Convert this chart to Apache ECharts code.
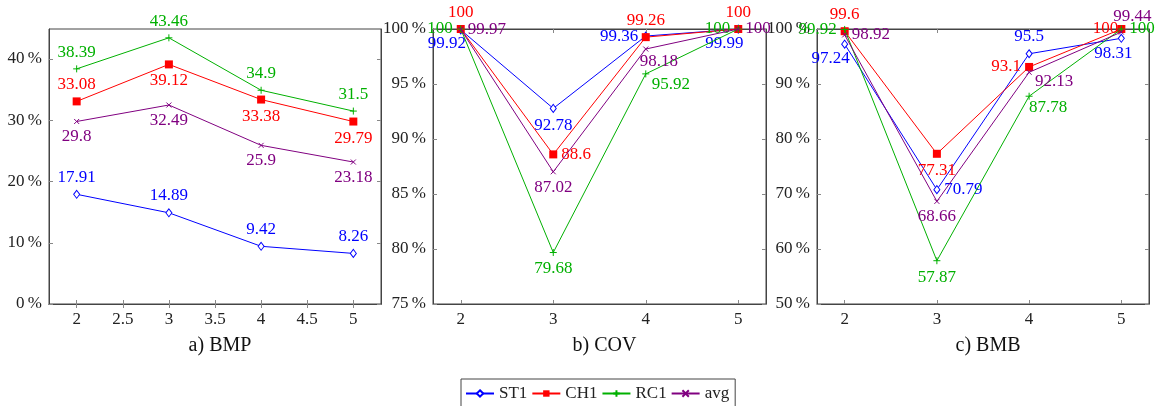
<!DOCTYPE html>
<html>
<head>
<meta charset="utf-8">
<script src="https://cdn.jsdelivr.net/npm/echarts@6/dist/echarts.min.js"></script>
<style>
  html, body { margin: 0; padding: 0; background: #fff; }
  #main { width: 1158px; height: 406px; }
</style>
</head>
<body>
<div id="main"></div>
<script>
// x values (shared by all three panels)
var xs = [2, 3, 4, 5];
var seriesNames = ['ST1', 'CH1', 'RC1', 'avg'];

// a) BMP
var bmpST1 = [17.91, 14.89, 9.42, 8.26];
var bmpCH1 = [33.08, 39.12, 33.38, 29.79];
var bmpRC1 = [38.39, 43.46, 34.9, 31.5];
var bmpAvg = [29.8, 32.49, 25.9, 23.18];

// b) COV
var covST1 = [99.92, 92.78, 99.36, 99.99];
var covCH1 = [100, 88.6, 99.26, 100];
var covRC1 = [100, 79.68, 95.92, 100];
var covAvg = [99.97, 87.02, 98.18, 100];

// c) BMB
var bmbST1 = [97.24, 70.79, 95.5, 98.31];
var bmbCH1 = [99.6, 77.31, 93.1, 100];
var bmbRC1 = [99.92, 57.87, 87.78, 100];
var bmbAvg = [98.92, 68.66, 92.13, 99.44];

// tick labels
var bmpXTicks = [2, 2.5, 3, 3.5, 4, 4.5, 5];
var xTicks = [2, 3, 4, 5];
var bmpYTicks = [0, 10, 20, 30, 40];
var covYTicks = [75, 80, 85, 90, 95, 100];
var bmbYTicks = [50, 60, 70, 80, 90, 100];

// label placement per point: [position, dx, dy]
var T = ['top', 0, 0], B = ['bottom', 0, 0], L = ['left', 0, 0], R = ['right', 0, 0];
var bmpLabels = [[T, T, T, T], [T, B, B, B], [T, T, T, T], [B, B, B, B]];
var covLabels = [
    [['bottom', -14, -3], B, L, ['bottom', -14, -3]],
    [T, R, T, T],
    [L, B, ['bottom', 25, -6], L],
    [R, B, ['bottom', 13, -3], R]
];
var bmbLabels = [
    [['bottom', -14, -3], R, T, ['bottom', -8, -2]],
    [T, B, L, ['left', 5, 0]],
    [L, B, ['bottom', 19, -5], R],
    [R, B, ['bottom', 25, -6], ['top', 11, 0]]
];

var colors = ['#0000ff', '#ff0000', '#00b000', '#800080'];
var symbols = ['diamond', 'rect', 'path://M0,4L8,4M4,0L4,8', 'path://M0,0L8,8M0,8L8,0'];
var symbolSizes = [[6, 8], 8, 7, 5];
var FONT = 'Liberation Serif';

var panels = [
    { title: 'a) BMP', left: 49, width: 332, ymin: 0, ymax: 44.9, xt: bmpXTicks, yt: bmpYTicks,
      data: [bmpST1, bmpCH1, bmpRC1, bmpAvg], labels: bmpLabels },
    { title: 'b) COV', left: 433, width: 333, ymin: 75, ymax: 100, xt: xTicks, yt: covYTicks,
      data: [covST1, covCH1, covRC1, covAvg], labels: covLabels },
    { title: 'c) BMB', left: 817, width: 332, ymin: 50, ymax: 100, xt: xTicks, yt: bmbYTicks,
      data: [bmbST1, bmbCH1, bmbRC1, bmbAvg], labels: bmbLabels }
];

var chart = echarts.init(document.getElementById('main'));

var grids = [], xAxes = [], yAxes = [], series = [], titles = [];
panels.forEach(function (p, i) {
    grids.push({ left: p.left, top: 29, width: p.width, height: 275, show: true,
        borderColor: '#444', borderWidth: 1, backgroundColor: 'transparent' });
    titles.push({ text: p.title, left: p.left + p.width / 2, top: 331, textAlign: 'center',
        textStyle: { fontFamily: FONT, fontSize: 20, fontWeight: 'normal', color: '#111' } });

    // bottom/left axes with labels, top/right mirrors with ticks only
    ['bottom', 'top'].forEach(function (pos) {
        xAxes.push({
            type: 'value', gridIndex: i, position: pos, min: 1.7, max: 5.3,
            splitLine: { show: false },
            axisLine: { show: true, lineStyle: { color: '#444' } },
            axisTick: { show: true, inside: true, length: 4, customValues: p.xt, lineStyle: { color: '#888' } },
            axisLabel: { show: pos === 'bottom', customValues: p.xt, margin: 7,
                fontFamily: FONT, fontSize: 17, color: '#222' }
        });
    });
    ['left', 'right'].forEach(function (pos) {
        yAxes.push({
            type: 'value', gridIndex: i, position: pos, min: p.ymin, max: p.ymax,
            splitLine: { show: false },
            axisLine: { show: true, lineStyle: { color: '#444' } },
            axisTick: { show: true, inside: true, length: 4, customValues: p.yt, lineStyle: { color: '#888' } },
            axisLabel: { show: pos === 'left', customValues: p.yt, margin: 7,
                fontFamily: FONT, fontSize: 17, color: '#222',
                formatter: function (v) { return v + '\u2009%'; } }
        });
    });

    p.data.forEach(function (vals, s) {
        series.push({
            name: seriesNames[s], type: 'line',
            xAxisIndex: i * 2, yAxisIndex: i * 2,
            symbol: symbols[s], symbolSize: symbolSizes[s],
            showAllSymbol: true,
            lineStyle: { color: colors[s], width: 1 },
            itemStyle: s === 0
                ? { color: '#fff', borderColor: colors[s], borderWidth: 1 }
                : { color: colors[s], borderColor: colors[s], borderWidth: s >= 2 ? 1 : 0 },
            emphasis: { disabled: true },
            data: vals.map(function (v, k) {
                var lp = p.labels[s][k];
                return { value: [xs[k], v],
                    label: { show: true, position: lp[0], offset: [lp[1], lp[2]] } };
            }),
            label: { show: true, fontFamily: FONT, fontSize: 17, color: colors[s], distance: 4,
                formatter: function (d) { return String(d.value[1]); } },
            z: 2 + s
        });
    });
});

chart.setOption({
    animation: false,
    title: titles,
    grid: grids,
    xAxis: xAxes,
    yAxis: yAxes,
    legend: {
        data: seriesNames, left: 461, top: 379,
        orient: 'horizontal', itemWidth: 28, itemHeight: 8, itemGap: 4,
        padding: [6, 6, 10, 4], borderColor: '#444', borderWidth: 1,
        textStyle: { fontFamily: FONT, fontSize: 17, color: '#222' }
    },
    series: series
});
</script>
</body>
</html>
